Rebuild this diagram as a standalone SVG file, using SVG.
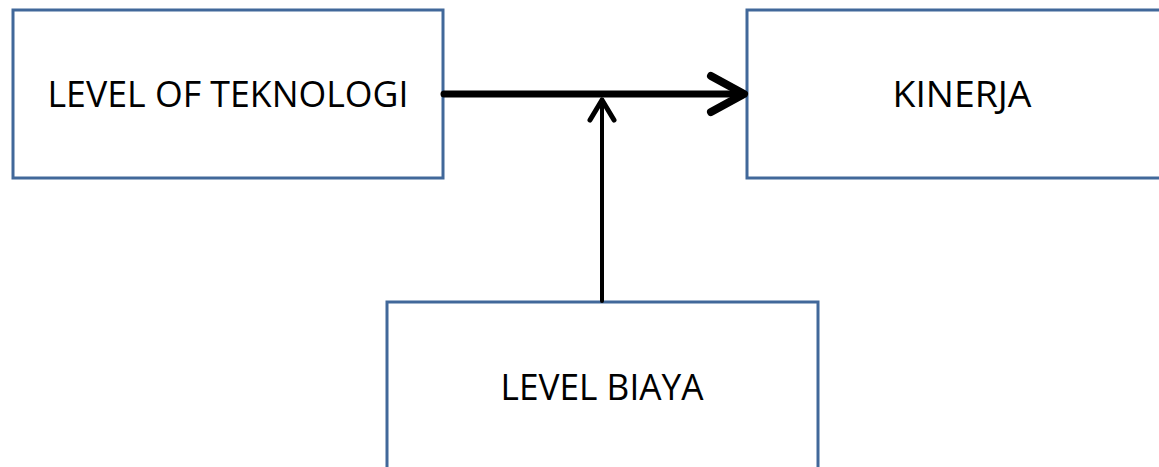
<svg xmlns="http://www.w3.org/2000/svg" width="1159" height="467" viewBox="0 0 1159 467">
  <style>
    .box { fill: #ffffff; stroke: #41689a; stroke-width: 3; }
    .label { font-family: "Open Sans", "Liberation Sans", sans-serif; font-size: 37px; fill: #000000; text-anchor: middle; }
    .conn { fill: none; stroke: #000000; stroke-linecap: round; stroke-linejoin: round; }
  </style>
  <rect width="1159" height="467" fill="#ffffff"/>

  <g id="node-teknologi">
    <rect class="box" x="13" y="10" width="430" height="168"/>
    <text class="label" x="228" y="107" textLength="361" lengthAdjust="spacingAndGlyphs">LEVEL OF TEKNOLOGI</text>
  </g>

  <g id="node-kinerja">
    <rect class="box" x="747" y="10" width="440" height="168"/>
    <text class="label" x="962" y="107" textLength="139" lengthAdjust="spacingAndGlyphs">KINERJA</text>
  </g>

  <g id="node-biaya">
    <rect class="box" x="387" y="302" width="431" height="180"/>
    <text class="label" x="602" y="400" textLength="203" lengthAdjust="spacingAndGlyphs">LEVEL BIAYA</text>
  </g>

  <g id="connectors">
    <!-- main link with open chevron head -->
    <line class="conn" x1="444" y1="94" x2="743" y2="94" stroke-width="7" stroke-linecap="butt"/>
    <polyline class="conn" points="711,76 744,94 711,112" stroke-width="8"/>
    <!-- moderating link into the main line -->
    <line class="conn" x1="602" y1="301" x2="602" y2="100" stroke-width="4" stroke-linecap="butt"/>
    <polyline class="conn" points="590,120 602,100 614,120" stroke-width="5"/>
  </g>
</svg>
